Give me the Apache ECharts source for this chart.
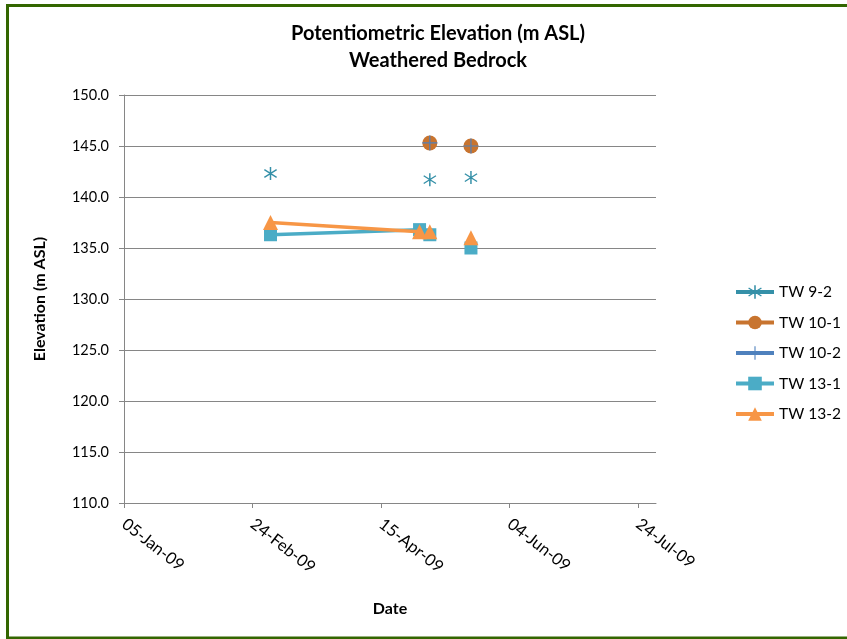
<!DOCTYPE html>
<html>
<head>
<meta charset="utf-8">
<script src="https://cdn.jsdelivr.net/npm/echarts@6/dist/echarts.min.js"></script>
<style>
html,body{margin:0;padding:0;background:#fff;}
#chart{width:847px;height:639px;}
</style>
</head>
<body>
<div id="chart"></div>
<script>
// ---- data ----
const sampleDates = ['2009-03-03', '2009-04-30', '2009-05-04', '2009-05-20'];
const tw92  = [142.3, null, 141.7, 141.9];
const tw101 = [null, null, 145.3, 145.0];
const tw102 = [null, null, 145.3, 145.0];
const tw131 = [136.3, 136.8, 136.3, 135.0];
const tw132 = [137.5, 136.6, 136.6, 136.0];
// line breaks (no connecting line drawn after these dates)
const breakAfter = ['2009-04-30', '2009-05-04'];
const seriesNames = ['TW 9-2', 'TW 10-1', 'TW 10-2', 'TW 13-1', 'TW 13-2'];
const xTickDays = [0, 50, 100, 150, 200];

const origin = Date.UTC(2009, 0, 5);
const DAY = 86400000;
const toDay = s => { const p = s.split('-'); return (Date.UTC(+p[0], +p[1] - 1, +p[2]) - origin) / DAY; };
const MON = ['Jan','Feb','Mar','Apr','May','Jun','Jul','Aug','Sep','Oct','Nov','Dec'];
const fmtDay = d => { const dt = new Date(origin + d * DAY); const dd = String(dt.getUTCDate()).padStart(2,'0'); return dd + '-' + MON[dt.getUTCMonth()] + '-' + String(dt.getUTCFullYear()).slice(2); };

function build(vals) {
  const out = [];
  sampleDates.forEach((d, i) => {
    const x = toDay(d);
    out.push([x, vals[i] == null ? '-' : vals[i]]);
    if (breakAfter.indexOf(d) >= 0) out.push([x, '-']);
  });
  return out;
}

const FONT = 'Lato, "Open Sans", sans-serif';
const starPath = 'path://M9,0 L11,0 L11,20 L9,20 Z M1.2,4.9 L2.2,3.2 L18.8,15.1 L17.8,16.8 Z M17.8,3.2 L18.8,4.9 L2.2,16.8 L1.2,15.1 Z';
const plusPath = 'path://M9.2,0 L10.8,0 L10.8,9.2 L20,9.2 L20,10.8 L10.8,10.8 L10.8,20 L9.2,20 L9.2,10.8 L0,10.8 L0,9.2 L9.2,9.2 Z';

const cols = ['#3590A8', '#C8742F', '#4F81BD', '#4BACC6', '#F79646'];
const datas = [tw92, tw101, tw102, tw131, tw132];
const symbols = [starPath, 'circle', plusPath, 'rect', 'triangle'];
const sizes = [13, 15, 15, 13, 15];

const chart = echarts.init(document.getElementById('chart'), null, {renderer: 'canvas'});
chart.setOption({
  animation: false,
  backgroundColor: '#fff',
  title: {
    text: 'Potentiometric Elevation (m ASL)\nWeathered Bedrock',
    left: 433, top: 15, textAlign: 'center',
    textStyle: {fontFamily: FONT, fontSize: 20, fontWeight: 'bold', color: '#000', lineHeight: 27}
  },
  graphic: [{
    type: 'rect', silent: true,
    shape: {x: 7.5, y: 5.5, width: 900, height: 632.5},
    style: {fill: 'none', stroke: '#336600', lineWidth: 3}
  }],
  legend: {
    orient: 'vertical', left: 729, top: 279,
    itemWidth: 38, itemHeight: 17, itemGap: 14.5,
    textStyle: {fontFamily: FONT, fontSize: 15.5, color: '#000'},
    lineStyle: {width: 4},
    data: seriesNames
  },
  grid: {left: 124, top: 95, right: 191, bottom: 136, containLabel: false},
  xAxis: {
    type: 'value', min: 0, max: 207, interval: 50,
    name: 'Date', nameLocation: 'middle', nameGap: 98,
    nameTextStyle: {fontFamily: FONT, fontSize: 16, fontWeight: 'bold', color: '#000'},
    axisLine: {show: true, lineStyle: {color: '#868686', width: 1}},
    axisTick: {show: true, length: 5, customValues: xTickDays, lineStyle: {color: '#868686'}},
    axisLabel: {customValues: xTickDays, rotate: -38, margin: 19, formatter: v => fmtDay(v),
      fontFamily: FONT, fontSize: 16.5, color: '#000'},
    splitLine: {show: false}
  },
  yAxis: {
    type: 'value', min: 110, max: 150, interval: 5,
    name: 'Elevation (m ASL)', nameLocation: 'middle', nameGap: 76, nameRotate: 90,
    nameTextStyle: {fontFamily: FONT, fontSize: 16, fontWeight: 'bold', color: '#000'},
    axisLine: {show: true, lineStyle: {color: '#868686', width: 1}},
    axisTick: {show: true, length: 5, inside: false, lineStyle: {color: '#868686'}},
    axisLabel: {formatter: v => v.toFixed(1), margin: 15, fontFamily: FONT, fontSize: 14.5, color: '#000'},
    splitLine: {show: true, lineStyle: {color: '#868686', width: 1}}
  },
  series: seriesNames.map((n, i) => ({
    name: n, type: 'line',
    data: build(datas[i]),
    connectNulls: false,
    symbol: symbols[i], symbolSize: sizes[i], showAllSymbol: true,
    itemStyle: {color: cols[i], opacity: 1},
    lineStyle: {color: cols[i], width: 3.5},
    z: 2 + i
  }))
});
</script>
</body>
</html>
